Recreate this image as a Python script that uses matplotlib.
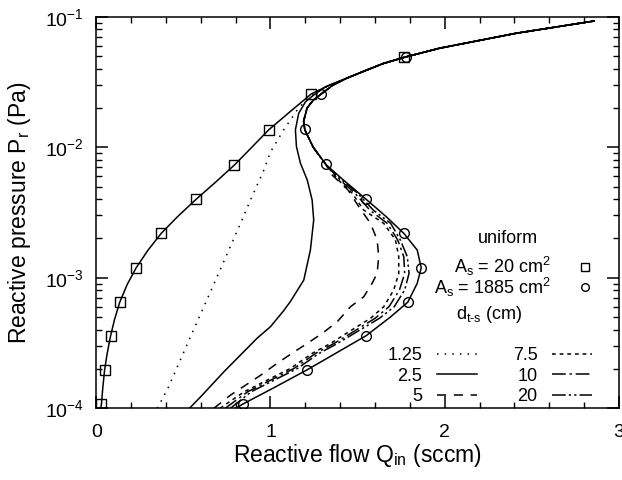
import matplotlib
matplotlib.use('Agg')
import matplotlib.pyplot as plt
from matplotlib.lines import Line2D
import numpy as np

plt.rcParams['font.family'] = ['Liberation Sans', 'DejaVu Sans']
plt.rcParams['mathtext.fontset'] = 'custom'
plt.rcParams['mathtext.rm'] = 'Liberation Sans'
plt.rcParams['mathtext.it'] = 'Liberation Sans:italic'
plt.rcParams['mathtext.default'] = 'regular'

# uniform target, A_s = 20 cm2 (squares) - lower part
sq_q    = [0.026, 0.030, 0.038, 0.048, 0.063, 0.082, 0.105, 0.135, 0.178, 0.229, 0.296,
           0.373, 0.468, 0.574, 0.683, 0.793, 0.893, 0.990, 1.110, 1.234, 1.330]
sq_p    = [1.0e-4, 1.08e-4, 1.45e-4, 1.96e-4, 2.64e-4, 3.57e-4, 4.79e-4, 6.5e-4, 8.9e-4, 1.19e-3, 1.62e-3,
           2.19e-3, 2.95e-3, 4.0e-3, 5.37e-3, 7.31e-3, 1.0e-2, 1.36e-2, 1.86e-2, 2.56e-2, 2.95e-2]
sq_mq   = [0.030, 0.048, 0.082, 0.135, 0.229, 0.373, 0.574, 0.793, 0.990, 1.234, 1.769]
sq_mp   = [1.08e-4, 1.96e-4, 3.57e-4, 6.5e-4, 1.19e-3, 2.19e-3, 4.0e-3, 7.31e-3, 1.36e-2, 2.56e-2, 4.89e-2]

# uniform target, A_s = 1885 cm2 (circles) - lower branch
ci_q    = [0.800, 0.843, 1.025, 1.207, 1.383, 1.549, 1.688, 1.788, 1.842, 1.865, 1.842,
           1.765, 1.665, 1.549, 1.430]
ci_p    = [1.0e-4, 1.08e-4, 1.45e-4, 1.96e-4, 2.68e-4, 3.6e-4, 5.0e-4, 6.5e-4, 9.06e-4, 1.19e-3, 1.63e-3,
           2.19e-3, 2.93e-3, 3.99e-3, 5.44e-3]
ci_mq   = [0.843, 1.207, 1.549, 1.788, 1.865, 1.765, 1.549, 1.320, 1.197, 1.291, 1.779]
ci_mp   = [1.08e-4, 1.96e-4, 3.6e-4, 6.5e-4, 1.19e-3, 2.19e-3, 3.99e-3, 7.4e-3, 1.37e-2, 2.56e-2, 4.89e-2]

# part of the circle curve that the 5..20 cm curves also follow
tail_q  = [1.320, 1.245, 1.197, 1.190, 1.210, 1.245, 1.291, 1.360]
tail_p  = [7.31e-3, 1.0e-2, 1.36e-2, 1.58e-2, 2.0e-2, 2.29e-2, 2.56e-2, 3.0e-2]

# common upper branch of all curves
up_q    = [1.44, 1.55, 1.645, 1.769, 1.969, 2.408, 2.857]
up_p    = [3.39e-2, 3.89e-2, 4.37e-2, 4.89e-2, 5.73e-2, 7.46e-2, 9.27e-2]

# d_t-s = 1.25 cm
d125_q  = [0.350, 0.407, 0.541, 0.694, 0.828, 0.885, 0.962, 1.000, 1.076, 1.153, 1.211, 1.270, 1.330]
d125_p  = [1.0e-4, 1.38e-4, 3.53e-4, 1.02e-3, 2.61e-3, 3.94e-3, 6.68e-3, 9.2e-3, 1.36e-2, 1.93e-2, 2.37e-2,
           2.65e-2, 2.95e-2]
# d_t-s = 2.5 cm
d25_q   = [0.535, 0.598, 0.732, 0.924, 1.000, 1.076, 1.115, 1.191, 1.229, 1.248, 1.239, 1.211, 1.172,
           1.149, 1.143, 1.162, 1.201, 1.248, 1.316]
d25_p   = [1.0e-4, 1.22e-4, 1.9e-4, 3.45e-4, 4.22e-4, 5.6e-4, 6.6e-4, 9.6e-4, 1.63e-3, 2.77e-3, 3.94e-3,
           5.61e-3, 7.53e-3, 1.01e-2, 1.36e-2, 1.82e-2, 2.23e-2, 2.51e-2, 2.91e-2]
# d_t-s = 5 cm
d5_q    = [0.675, 0.770, 0.943, 1.038, 1.124, 1.211, 1.297, 1.383, 1.459, 1.535, 1.583, 1.612, 1.621,
           1.612, 1.574, 1.507, 1.445, 1.344]
d5_p    = [1.0e-4, 1.26e-4, 1.79e-4, 2.21e-4, 2.64e-4, 3.14e-4, 3.75e-4, 4.6e-4, 6.0e-4, 7.14e-4, 9.06e-4,
           1.08e-3, 1.45e-3, 1.95e-3, 2.61e-3, 3.5e-3, 4.7e-3, 6.3e-3]
# d_t-s = 7.5, 10, 20 cm share the same pressure points
d_p     = [1.0e-4, 1.34e-4, 1.64e-4, 2.02e-4, 2.64e-4, 3.14e-4, 3.64e-4, 4.89e-4, 6.0e-4, 8.05e-4, 1.08e-3,
           1.45e-3, 1.95e-3, 2.61e-3, 3.3e-3, 4.44e-3, 5.6e-3]
d75_q   = [0.710, 0.850, 0.980, 1.115, 1.240, 1.345, 1.420, 1.574, 1.650, 1.707, 1.736,
           1.736, 1.717, 1.650, 1.535, 1.469, 1.390]
d10_q   = [0.740, 0.870, 1.000, 1.135, 1.260, 1.365, 1.445, 1.600, 1.680, 1.740, 1.770,
           1.765, 1.730, 1.670, 1.570, 1.485, 1.400]
d20_q   = [0.770, 0.890, 1.020, 1.155, 1.280, 1.385, 1.465, 1.625, 1.710, 1.770, 1.795,
           1.785, 1.745, 1.690, 1.590, 1.500, 1.410]

d_labels = ['1.25', '2.5', '5', '7.5', '10', '20']
styles = {
    '1.25': (0, (1, 4)),
    '2.5':  '-',
    '5':    (0, (6, 5)),
    '7.5':  (0, (2.5, 2.5)),
    '10':   (0, (9, 2.5, 1.5, 2.5)),
    '20':   (0, (9, 2, 1.5, 2, 1.5, 2)),
}


def main():
    fig = plt.figure(figsize=(6.22, 4.8), dpi=100)
    ax = fig.add_axes([0.1547, 0.1494, 0.8405, 0.8158])
    lw = 1.1

    # curves for the different target-substrate distances
    ax.plot(d125_q + up_q, d125_p + up_p, color='k', lw=lw, ls=styles['1.25'])
    ax.plot(d25_q + up_q, d25_p + up_p, color='k', lw=lw, ls=styles['2.5'])
    ax.plot(d5_q + tail_q + up_q, d5_p + tail_p + up_p, color='k', lw=lw, ls=styles['5'])
    ax.plot(d75_q + tail_q + up_q, d_p + tail_p + up_p, color='k', lw=lw, ls=styles['7.5'])
    ax.plot(d10_q + tail_q + up_q, d_p + tail_p + up_p, color='k', lw=lw, ls=styles['10'])
    ax.plot(d20_q + tail_q + up_q, d_p + tail_p + up_p, color='k', lw=lw, ls=styles['20'])

    # uniform cases
    ax.plot(sq_q + up_q, sq_p + up_p, color='k', lw=lw)
    ax.plot(ci_q + tail_q + up_q, ci_p + tail_p + up_p, color='k', lw=lw)
    ax.plot(sq_mq, sq_mp, ls='none', marker='s', ms=7, mfc='none', mec='k', mew=1.0)
    ax.plot(ci_mq, ci_mp, ls='none', marker='o', ms=7, mfc='none', mec='k', mew=1.0)

    ax.set_yscale('log')
    ax.set_xlim(0, 3)
    ax.set_ylim(1e-4, 1e-1)
    ax.set_xticks([0, 1, 2, 3])
    ax.set_xticks(np.arange(0, 3.01, 0.2), minor=True)
    ax.tick_params(which='both', direction='in', top=True, right=True, labelsize=14)
    ax.tick_params(which='major', length=8.5, width=1.1)
    ax.tick_params(which='minor', length=4.5, width=1.0)
    ax.tick_params(axis='x', pad=11)
    ax.tick_params(axis='y', pad=9)
    for s in ax.spines.values():
        s.set_linewidth(1.1)

    ax.set_xlabel('Reactive flow Q$_{in}$ (sccm)', fontsize=16.5)
    ax.set_ylabel('Reactive pressure P$_{r}$ (Pa)', fontsize=16.5)
    ax.xaxis.set_label_coords(0.5, -0.085)
    ax.yaxis.set_label_coords(-0.12, 0.5)

    # legend with the uniform cases
    fig.text(0.817, 0.504, 'uniform', fontsize=13, ha='center', va='center')
    h_sq = Line2D([], [], ls='none', marker='s', ms=6, mfc='none', mec='k', mew=1.0)
    h_ci = Line2D([], [], ls='none', marker='o', ms=5.5, mfc='none', mec='k', mew=1.0)
    leg1 = ax.legend([h_sq, h_ci], ['A$_s$ = 20 cm$^2$', 'A$_s$ = 1885 cm$^2$'],
                     fontsize=13, markerfirst=False,
                     frameon=False, handlelength=1.0, handletextpad=1.4, labelspacing=-0.15,
                     borderpad=0, loc='upper center', bbox_to_anchor=(0.826, 0.487),
                     bbox_transform=fig.transFigure)
    ax.add_artist(leg1)

    fig.text(0.786, 0.344, r'd$_{t\text{-}s}$ (cm)', fontsize=13, ha='center', va='center')
    handles = [Line2D([], [], color='k', lw=lw, ls=styles[d]) for d in d_labels]
    ax.legend(handles, d_labels, ncol=2, fontsize=13, markerfirst=False, frameon=False,
              handlelength=2.2, handletextpad=0.8, columnspacing=2.0, labelspacing=0.2,
              borderpad=0, loc='upper center', bbox_to_anchor=(0.787, 0.296),
              bbox_transform=fig.transFigure)

    fig.savefig('out.png', dpi=100)


if __name__ == '__main__':
    main()
